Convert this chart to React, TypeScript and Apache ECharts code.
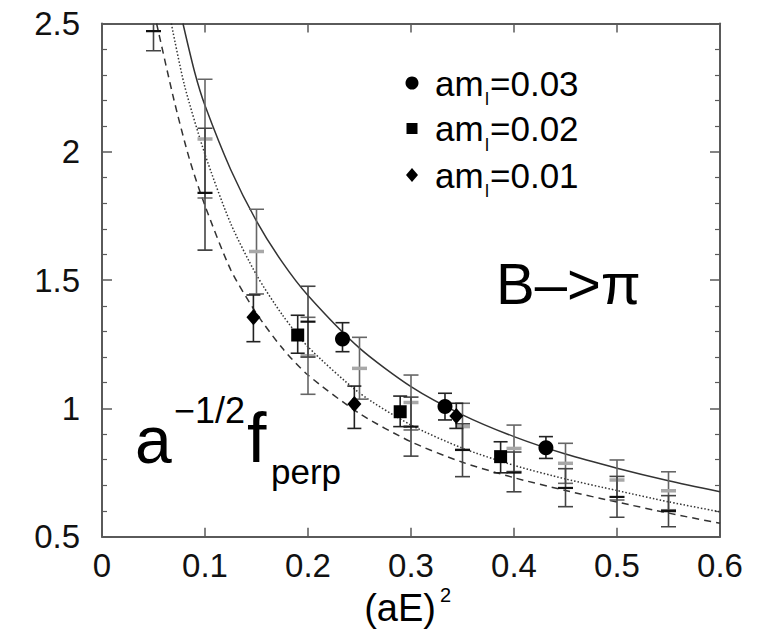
import React, { useEffect, useRef } from "react";
import * as echarts from "echarts";

// ---- data ----
const xTicks = [0, 0.1, 0.2, 0.3, 0.4, 0.5, 0.6];
const yTicks = [0.5, 1, 1.5, 2, 2.5];

// fitted curves (x = (aE)^2, y = a^-1/2 f_perp)
const solidCurve = [
  [0.0786, 2.5], [0.09, 2.31], [0.1, 2.18], [0.125, 1.93], [0.15, 1.73], [0.175, 1.57],
  [0.2, 1.44], [0.25, 1.235], [0.3, 1.085], [0.35, 0.975], [0.4, 0.89],
  [0.45, 0.822], [0.5, 0.767], [0.55, 0.718], [0.6, 0.675],
];
const dottedCurve = [
  [0.0673, 2.5], [0.08, 2.26], [0.1, 1.99], [0.125, 1.72], [0.15, 1.52], [0.175, 1.365],
  [0.2, 1.24], [0.25, 1.06], [0.3, 0.935], [0.35, 0.845], [0.4, 0.778], [0.45, 0.725],
  [0.5, 0.68], [0.55, 0.636], [0.6, 0.597],
];
const dashedCurve = [
  [0.053, 2.5], [0.07, 2.2], [0.085, 1.97], [0.1, 1.79], [0.125, 1.54], [0.15, 1.37],
  [0.175, 1.235], [0.2, 1.13], [0.25, 0.98], [0.3, 0.87], [0.35, 0.79], [0.4, 0.73],
  [0.45, 0.68], [0.5, 0.635], [0.55, 0.592], [0.6, 0.552],
];

// simulation points: [x, value, low, high]
const am03Points = [
  [0.2335, 1.27, 1.221, 1.334],
  [0.333, 1.007, 0.955, 1.059],
  [0.431, 0.847, 0.805, 0.89],
];
const am02Points = [
  [0.19, 1.286, 1.215, 1.363],
  [0.2895, 0.987, 0.929, 1.048],
  [0.387, 0.812, 0.749, 0.87],
];
const am01Points = [
  [0.147, 1.355, 1.26, 1.442],
  [0.245, 1.017, 0.922, 1.087],
  [0.344, 0.97, 0.922, 1.02],
];

// interpolated points with error bars: [x, center, low, high]
const greyBars = [
  [0.1, 2.05, 1.82, 2.283],
  [0.15, 1.611, 1.446, 1.776],
  [0.2, 1.205, 1.055, 1.355],
  [0.25, 1.156, 1.036, 1.277],
  [0.3, 1.023, 0.916, 1.13],
  [0.35, 0.929, 0.84, 1.02],
  [0.4, 0.844, 0.754, 0.935],
  [0.45, 0.786, 0.708, 0.864],
  [0.5, 0.721, 0.643, 0.799],
  [0.55, 0.679, 0.605, 0.753],
];
const blackBars = [
  [0.05, 2.47, 2.394, 2.55],
  [0.1, 1.84, 1.617, 2.092],
  [0.2, 1.338, 1.2, 1.476],
  [0.3, 0.929, 0.814, 1.044],
  [0.35, 0.838, 0.734, 0.94],
  [0.4, 0.75, 0.675, 0.83],
  [0.45, 0.69, 0.617, 0.765],
  [0.5, 0.655, 0.576, 0.735],
  [0.55, 0.6, 0.539, 0.66],
];

const legendLabels = ["=0.03", "=0.02", "=0.01"];

const FONT = "'Liberation Sans', Arial, Helvetica, sans-serif";

function errorBars(
  name: string,
  data: number[][],
  barColor: string,
  centerColor: string | null,
  centerWidth: number,
  capHalf: number,
  z: number
) {
  return {
    type: "custom",
    name,
    clip: true,
    z,
    data,
    encode: { x: 0, y: [1, 2, 3] },
    renderItem: (params: any, api: any) => {
      const x = api.value(0);
      const c = api.value(1);
      const lo = api.value(2);
      const hi = api.value(3);
      const pHi = api.coord([x, hi]);
      const pLo = api.coord([x, lo]);
      const pC = api.coord([x, c]);
      const st = { stroke: barColor, lineWidth: 1.6 };
      const children: any[] = [
        { type: "line", shape: { x1: pHi[0], y1: pHi[1], x2: pLo[0], y2: pLo[1] }, style: st },
        { type: "line", shape: { x1: pHi[0] - capHalf, y1: pHi[1], x2: pHi[0] + capHalf, y2: pHi[1] }, style: st },
        { type: "line", shape: { x1: pLo[0] - capHalf, y1: pLo[1], x2: pLo[0] + capHalf, y2: pLo[1] }, style: st },
      ];
      if (centerColor) {
        children.push({
          type: "line",
          shape: { x1: pC[0] - capHalf, y1: pC[1], x2: pC[0] + capHalf, y2: pC[1] },
          style: { stroke: centerColor, lineWidth: centerWidth },
        });
      }
      return { type: "group", children };
    },
  };
}

function curve(name: string, data: number[][], type: any) {
  return {
    type: "line",
    name,
    data,
    showSymbol: false,
    smooth: 0.25,
    clip: true,
    z: 1,
    lineStyle: { color: "#333", width: 1.5, type },
  };
}

export default function App() {
  const ref = useRef<HTMLDivElement>(null);
  useEffect(() => {
    if (!ref.current) return;
    const chart = echarts.init(ref.current, null, { renderer: "svg" });
    const axisColor = "#5a5a5a";
    const gridLeft = 102;
    const gridTop = 23.5;

    const legendY = [83, 128.5, 175];
    const legendGraphics: any[] = [];
    legendGraphics.push({
      type: "circle",
      shape: { cx: 412, cy: legendY[0], r: 6.5 },
      style: { fill: "#000" },
    });
    legendGraphics.push({
      type: "rect",
      shape: { x: 406.5, y: legendY[1] - 5.5, width: 11, height: 11 },
      style: { fill: "#000" },
    });
    legendGraphics.push({
      type: "polygon",
      shape: {
        points: [
          [412, legendY[2] - 7],
          [418, legendY[2]],
          [412, legendY[2] + 7],
          [406, legendY[2]],
        ],
      },
      style: { fill: "#000" },
    });
    legendLabels.forEach((lab, i) => {
      legendGraphics.push({
        type: "text",
        x: 435,
        y: legendY[i],
        style: { text: "am", font: `35px ${FONT}`, fill: "#000", verticalAlign: "middle", align: "left" },
      });
      legendGraphics.push({
        type: "text",
        x: 485,
        y: legendY[i] + 16,
        style: { text: "l", font: `18px ${FONT}`, fill: "#000", verticalAlign: "middle", align: "left" },
      });
      legendGraphics.push({
        type: "text",
        x: 490,
        y: legendY[i],
        style: { text: lab, font: `35px ${FONT}`, fill: "#000", verticalAlign: "middle", align: "left" },
      });
    });

    const option: any = {
      animation: false,
      backgroundColor: "#fff",
      grid: { left: gridLeft, right: 774 - 720, top: gridTop, bottom: 631 - 536.7, containLabel: false },
      xAxis: [
        {
          type: "value",
          min: xTicks[0],
          max: xTicks[xTicks.length - 1],
          interval: 0.1,
          position: "bottom",
          axisLine: { show: true, onZero: false, lineStyle: { color: axisColor, width: 2 } },
          axisTick: { show: true, inside: true, length: 9, lineStyle: { color: axisColor, width: 1.5 } },
          axisLabel: { fontSize: 33, color: "#111", fontFamily: FONT, margin: 12 },
          splitLine: { show: false },
        },
        {
          type: "value",
          min: xTicks[0],
          max: xTicks[xTicks.length - 1],
          interval: 0.1,
          position: "top",
          axisLine: { show: true, onZero: false, lineStyle: { color: axisColor, width: 2 } },
          axisTick: { show: true, inside: true, length: 9, lineStyle: { color: axisColor, width: 1.5 } },
          axisLabel: { show: false },
          splitLine: { show: false },
        },
      ],
      yAxis: [
        {
          type: "value",
          min: yTicks[0],
          max: yTicks[yTicks.length - 1],
          interval: 0.5,
          position: "left",
          axisLine: { show: true, onZero: false, lineStyle: { color: axisColor, width: 2 } },
          axisTick: { show: true, inside: true, length: 10, lineStyle: { color: axisColor, width: 1.5 } },
          minorTick: { show: true, splitNumber: 5, length: 5, lineStyle: { color: axisColor, width: 1.2 } },
          axisLabel: { fontSize: 33, color: "#111", fontFamily: FONT, margin: 22 },
          splitLine: { show: false },
          minorSplitLine: { show: false },
        },
        {
          type: "value",
          min: yTicks[0],
          max: yTicks[yTicks.length - 1],
          interval: 0.5,
          position: "right",
          axisLine: { show: true, onZero: false, lineStyle: { color: axisColor, width: 2 } },
          axisTick: { show: true, inside: true, length: 10, lineStyle: { color: axisColor, width: 1.5 } },
          minorTick: { show: true, splitNumber: 5, length: 5, lineStyle: { color: axisColor, width: 1.2 } },
          axisLabel: { show: false },
          splitLine: { show: false },
          minorSplitLine: { show: false },
        },
      ],
      series: [
        curve("solid", solidCurve, "solid"),
        curve("dotted", dottedCurve, [1.5, 2]),
        curve("dashed", dashedCurve, [7, 5]),
        errorBars("grey", greyBars, "#666", "#a8a8a8", 3.5, 7.5, 3),
        errorBars("black", blackBars, "#444", "#111", 2.2, 7.5, 4),
        errorBars("am03err", am03Points, "#222", null, 2, 7, 5),
        errorBars("am02err", am02Points, "#222", null, 2, 7, 5),
        errorBars("am01err", am01Points, "#222", null, 2, 7, 5),
        {
          type: "scatter",
          name: "am=0.03",
          data: am03Points.map((p) => [p[0], p[1]]),
          symbol: "circle",
          symbolSize: 15,
          itemStyle: { color: "#000", opacity: 1 },
          z: 6,
        },
        {
          type: "scatter",
          name: "am=0.02",
          data: am02Points.map((p) => [p[0], p[1]]),
          symbol: "rect",
          symbolSize: 13,
          itemStyle: { color: "#000", opacity: 1 },
          z: 6,
        },
        {
          type: "scatter",
          name: "am=0.01",
          data: am01Points.map((p) => [p[0], p[1]]),
          symbol: "diamond",
          symbolSize: [14, 16],
          itemStyle: { color: "#000", opacity: 1 },
          z: 6,
        },
      ],
      graphic: [
        ...legendGraphics,
        {
          type: "text",
          x: 496,
          y: 283,
          style: { text: "B–>π", font: `58px ${FONT}`, fill: "#000", verticalAlign: "middle", align: "left" },
        },
        {
          type: "text",
          x: 135,
          y: 440,
          style: { text: "a", font: `66px ${FONT}`, fill: "#000", verticalAlign: "middle", align: "left" },
        },
        {
          type: "text",
          x: 174,
          y: 410.5,
          style: { text: "−1/2", font: `36px ${FONT}`, fill: "#000", verticalAlign: "middle", align: "left" },
        },
        {
          type: "text",
          x: 247,
          y: 438,
          style: { text: "f", font: `70px ${FONT}`, fill: "#000", verticalAlign: "middle", align: "left" },
        },
        {
          type: "text",
          x: 271,
          y: 471,
          style: { text: "perp", font: `35px ${FONT}`, fill: "#000", verticalAlign: "middle", align: "left" },
        },
        {
          type: "text",
          x: 436,
          y: 608,
          style: { text: "(aE)", font: `38px ${FONT}`, fill: "#000", verticalAlign: "middle", align: "right" },
        },
        {
          type: "text",
          x: 440,
          y: 595,
          style: { text: "2", font: `20px ${FONT}`, fill: "#000", verticalAlign: "middle", align: "left" },
        },
      ],
    };
    chart.setOption(option);
    return () => chart.dispose();
  }, []);
  return (
    <div
      ref={ref}
      style={{ position: "fixed", left: 0, top: 0, width: 774, height: 631, background: "#fff" }}
    />
  );
}
